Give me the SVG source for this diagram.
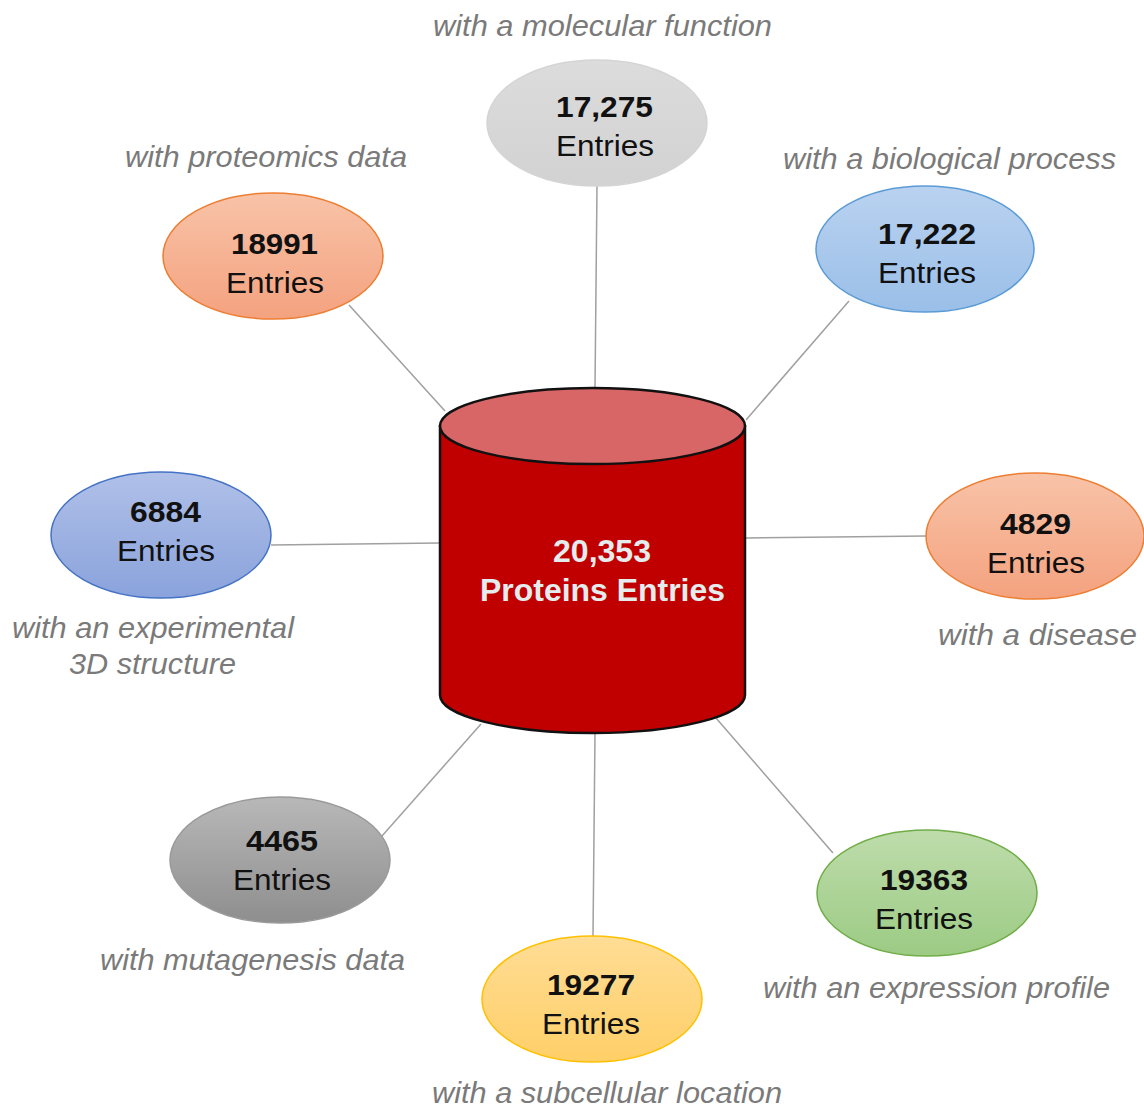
<svg xmlns="http://www.w3.org/2000/svg" width="1144" height="1109" viewBox="0 0 1144 1109">
<defs>
<linearGradient id="gGray" x1="0" y1="0" x2="0" y2="1"><stop offset="0" stop-color="#dcdcdc"/><stop offset="1" stop-color="#d2d2d2"/></linearGradient>
<linearGradient id="gBlue" x1="0" y1="0" x2="0" y2="1"><stop offset="0" stop-color="#bad2f0"/><stop offset="1" stop-color="#9abfe8"/></linearGradient>
<linearGradient id="gOrange" x1="0" y1="0" x2="0" y2="1"><stop offset="0" stop-color="#f8c3a8"/><stop offset="1" stop-color="#f4a27f"/></linearGradient>
<linearGradient id="gIndigo" x1="0" y1="0" x2="0" y2="1"><stop offset="0" stop-color="#b0c0e8"/><stop offset="1" stop-color="#8aa3dc"/></linearGradient>
<linearGradient id="gDark" x1="0" y1="0" x2="0" y2="1"><stop offset="0" stop-color="#b8b8b8"/><stop offset="1" stop-color="#8e8e8e"/></linearGradient>
<linearGradient id="gGreen" x1="0" y1="0" x2="0" y2="1"><stop offset="0" stop-color="#bedcab"/><stop offset="1" stop-color="#9ccb84"/></linearGradient>
<linearGradient id="gYellow" x1="0" y1="0" x2="0" y2="1"><stop offset="0" stop-color="#ffdd95"/><stop offset="1" stop-color="#ffcf68"/></linearGradient>
</defs>
<style>
.num{font-family:"Liberation Sans",Arial,sans-serif;font-size:29px;font-weight:bold;fill:#111;text-anchor:middle}
.ent{font-family:"Liberation Sans",Arial,sans-serif;font-size:29px;fill:#111;text-anchor:middle}
.lbl{font-family:"Liberation Sans",Arial,sans-serif;font-size:29px;font-style:italic;fill:#7a7a7a;text-anchor:middle}
.conn line{stroke:#a0a0a0;stroke-width:1.5}
.core{font-family:"Liberation Sans",Arial,sans-serif;font-size:31px;font-weight:bold;fill:#e4ecee;text-anchor:middle}
</style>
<rect width="1144" height="1109" fill="#ffffff"/>
<g id="connectors" class="conn">
<line x1="597" y1="186" x2="595" y2="388"/>
<line x1="849" y1="301" x2="746" y2="420"/>
<line x1="349" y1="305" x2="445" y2="411"/>
<line x1="271" y1="545" x2="439" y2="543"/>
<line x1="746" y1="538" x2="927" y2="536"/>
<line x1="382" y1="836" x2="481" y2="724"/>
<line x1="716" y1="718" x2="833" y2="853"/>
<line x1="595" y1="733" x2="593" y2="936"/>
</g>
<g id="core">
<path d="M440,426 L440,695 A152.5,38 0 0 0 745,695 L745,426 Z" fill="#c00000" stroke="#111" stroke-width="2.5"/>
<ellipse cx="592.5" cy="426" rx="152.5" ry="38" fill="#d96666" stroke="#111" stroke-width="2.5"/>
<text class="core" x="602" y="562" textLength="98" lengthAdjust="spacingAndGlyphs">20,353</text>
<text class="core" x="602.5" y="601" textLength="245" lengthAdjust="spacingAndGlyphs">Proteins Entries</text>
</g>
<g id="n-molecular">
<ellipse cx="597" cy="123" rx="110" ry="63" fill="url(#gGray)" stroke="#d4d4d4" stroke-width="1.5"/>
<text class="num" x="604.5" y="117" textLength="97" lengthAdjust="spacingAndGlyphs">17,275</text>
<text class="ent" x="605" y="156" textLength="98" lengthAdjust="spacingAndGlyphs">Entries</text>
<text class="lbl" x="602.5" y="36" textLength="339" lengthAdjust="spacingAndGlyphs">with a molecular function</text>
</g>
<g id="n-biological">
<ellipse cx="925" cy="249" rx="109" ry="63" fill="url(#gBlue)" stroke="#5b9bd5" stroke-width="1.5"/>
<text class="num" x="927" y="244" textLength="98" lengthAdjust="spacingAndGlyphs">17,222</text>
<text class="ent" x="927" y="283" textLength="98" lengthAdjust="spacingAndGlyphs">Entries</text>
<text class="lbl" x="949.5" y="169" textLength="333" lengthAdjust="spacingAndGlyphs">with a biological process</text>
</g>
<g id="n-proteomics">
<ellipse cx="273" cy="256" rx="110" ry="63" fill="url(#gOrange)" stroke="#ed7d31" stroke-width="1.5"/>
<text class="num" x="274.5" y="254" textLength="87" lengthAdjust="spacingAndGlyphs">18991</text>
<text class="ent" x="275" y="293" textLength="98" lengthAdjust="spacingAndGlyphs">Entries</text>
<text class="lbl" x="266" y="167" textLength="282" lengthAdjust="spacingAndGlyphs">with proteomics data</text>
</g>
<g id="n-structure">
<ellipse cx="161" cy="535" rx="110" ry="63" fill="url(#gIndigo)" stroke="#4472c4" stroke-width="1.5"/>
<text class="num" x="165.5" y="522" textLength="71" lengthAdjust="spacingAndGlyphs">6884</text>
<text class="ent" x="166" y="561" textLength="98" lengthAdjust="spacingAndGlyphs">Entries</text>
<text class="lbl" x="153" y="638" textLength="282" lengthAdjust="spacingAndGlyphs">with an experimental</text>
<text class="lbl" x="152.5" y="674" textLength="167" lengthAdjust="spacingAndGlyphs">3D structure</text>
</g>
<g id="n-disease">
<ellipse cx="1035" cy="536" rx="109" ry="63" fill="url(#gOrange)" stroke="#ed7d31" stroke-width="1.5"/>
<text class="num" x="1035.5" y="534" textLength="71" lengthAdjust="spacingAndGlyphs">4829</text>
<text class="ent" x="1036" y="573" textLength="98" lengthAdjust="spacingAndGlyphs">Entries</text>
<text class="lbl" x="1037.5" y="645" textLength="199" lengthAdjust="spacingAndGlyphs">with a disease</text>
</g>
<g id="n-mutagenesis">
<ellipse cx="280" cy="860" rx="110" ry="63" fill="url(#gDark)" stroke="#9a9a9a" stroke-width="1.5"/>
<text class="num" x="282" y="851" textLength="72" lengthAdjust="spacingAndGlyphs">4465</text>
<text class="ent" x="282" y="890" textLength="98" lengthAdjust="spacingAndGlyphs">Entries</text>
<text class="lbl" x="252.5" y="970" textLength="305" lengthAdjust="spacingAndGlyphs">with mutagenesis data</text>
</g>
<g id="n-expression">
<ellipse cx="927" cy="893" rx="110" ry="63" fill="url(#gGreen)" stroke="#70ad47" stroke-width="1.5"/>
<text class="num" x="924" y="890" textLength="88" lengthAdjust="spacingAndGlyphs">19363</text>
<text class="ent" x="924" y="929" textLength="98" lengthAdjust="spacingAndGlyphs">Entries</text>
<text class="lbl" x="936.5" y="998" textLength="347" lengthAdjust="spacingAndGlyphs">with an expression profile</text>
</g>
<g id="n-subcellular">
<ellipse cx="592" cy="999" rx="110" ry="63" fill="url(#gYellow)" stroke="#ffc000" stroke-width="1.5"/>
<text class="num" x="591" y="995" textLength="88" lengthAdjust="spacingAndGlyphs">19277</text>
<text class="ent" x="591" y="1034" textLength="98" lengthAdjust="spacingAndGlyphs">Entries</text>
<text class="lbl" x="607" y="1103" textLength="350" lengthAdjust="spacingAndGlyphs">with a subcellular location</text>
</g>
</svg>
